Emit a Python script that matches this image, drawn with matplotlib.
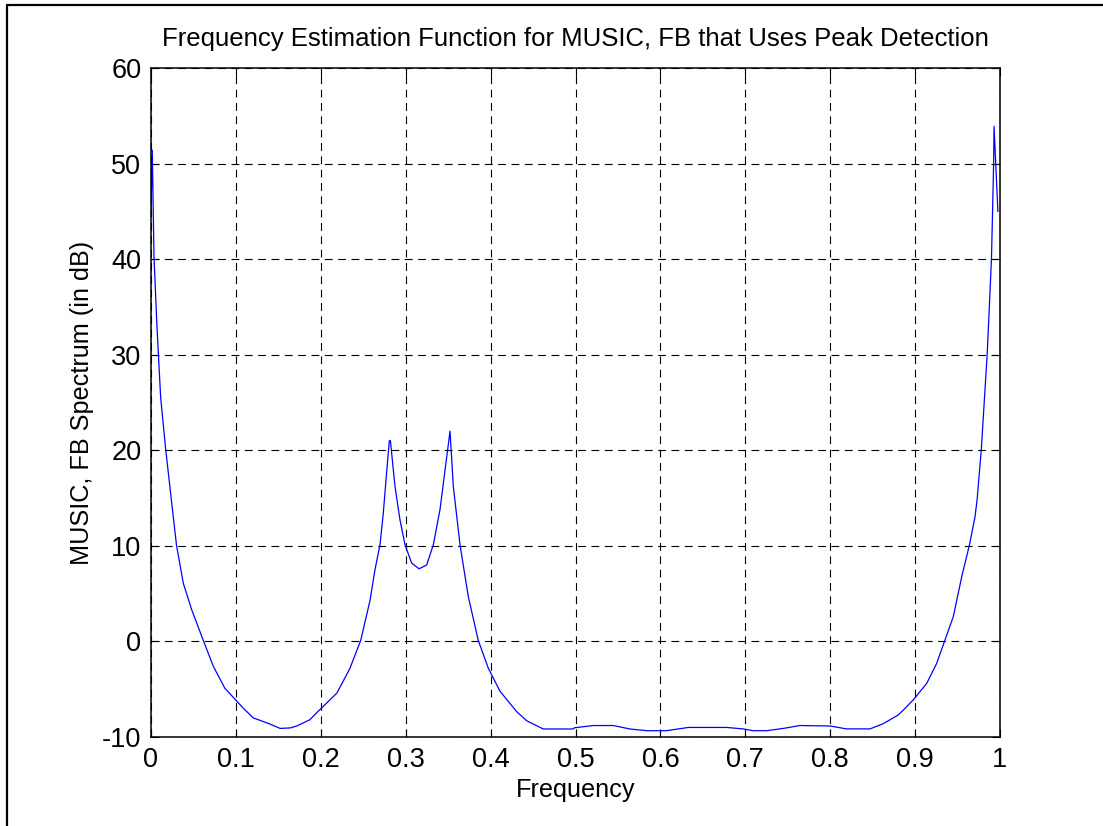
import numpy as np
import matplotlib
matplotlib.use("Agg")
import matplotlib.pyplot as plt
from matplotlib.lines import Line2D

# values
freq = [0.0, 0.0015, 0.0035, 0.0067, 0.0086, 0.0114, 0.0173, 0.024, 0.030, 0.038,
        0.048, 0.0616, 0.0734, 0.087, 0.099, 0.1088, 0.1205, 0.140, 0.152, 0.164,
        0.1716, 0.187, 0.197, 0.219, 0.2344, 0.247, 0.258, 0.2638, 0.2697, 0.2736,
        0.2768, 0.2807, 0.282, 0.2874, 0.2933, 0.2992, 0.307, 0.3157, 0.3247, 0.3325,
        0.3404, 0.3463, 0.3522, 0.3561, 0.364, 0.3737, 0.3855, 0.3973, 0.411, 0.4307,
        0.4425, 0.462, 0.497, 0.499, 0.521, 0.5445, 0.564, 0.584, 0.607, 0.633,
        0.678, 0.698, 0.709, 0.725, 0.745, 0.764, 0.80, 0.819, 0.847, 0.8626,
        0.8743, 0.880, 0.886, 0.898, 0.9136, 0.9254, 0.935, 0.945, 0.955, 0.964,
        0.9705, 0.973, 0.978, 0.985, 0.988, 0.990, 0.9925, 0.993, 0.9975]
spectrum = [45.1, 51.4, 40.3, 33.6, 30.2, 25.5, 20.1, 14.8, 10.1, 6.1,
            3.3, 0.1, -2.6, -4.9, -6.05, -7.0, -8.0, -8.64, -9.1, -9.05,
            -8.85, -8.2, -7.3, -5.4, -2.8, 0.1, 4.3, 7.5, 10.1, 13.4,
            16.9, 21.0, 21.0, 16.2, 12.7, 10.1, 8.2, 7.6, 8.0, 10.1,
            13.8, 17.9, 22.0, 16.2, 10.1, 4.7, 0.1, -2.8, -5.2, -7.35,
            -8.3, -9.16, -9.16, -9.03, -8.8, -8.8, -9.16, -9.34, -9.34, -9.0,
            -9.0, -9.16, -9.34, -9.34, -9.1, -8.8, -8.85, -9.15, -9.15, -8.6,
            -8.0, -7.7, -7.2, -6.1, -4.4, -2.3, 0.1, 2.6, 6.8, 10.1,
            13.0, 14.8, 20.1, 30.2, 36.1, 40.2, 50.0, 53.9, 45.0]

x_ticks = [0, 0.1, 0.2, 0.3, 0.4, 0.5, 0.6, 0.7, 0.8, 0.9, 1]
x_tick_labels = ["0", "0.1", "0.2", "0.3", "0.4", "0.5", "0.6", "0.7", "0.8", "0.9", "1"]
y_ticks = [-10, 0, 10, 20, 30, 40, 50, 60]

plt.rcParams['font.family'] = ['Liberation Sans', 'DejaVu Sans']
plt.rcParams['axes.unicode_minus'] = False

W, H = 1103, 826
fig = plt.figure(figsize=(W / 100, H / 100), dpi=100)
ax = fig.add_axes([151 / W, 1 - 737 / H, (1000 - 151) / W, (737 - 68) / H])

ax.plot(freq, spectrum, color='#0000ff', linewidth=0.9)

ax.set_xlim(0, 1)
ax.set_ylim(-10, 60)
ax.set_xticks(x_ticks)
ax.set_xticklabels(x_tick_labels)
ax.set_yticks(y_ticks)

ax.tick_params(direction='in', length=6, width=0.8, top=True, right=True,
               labelsize=19.5, pad=7)
ax.grid(True, color='black', linestyle=(0, (7, 5)), linewidth=0.8)
for s in ax.spines.values():
    s.set_linewidth(1.1)

ax.set_title("Frequency Estimation Function for MUSIC, FB that Uses Peak Detection",
             fontsize=18.5, pad=16)
ax.set_xlabel("Frequency", fontsize=18.2, labelpad=4)
ax.set_ylabel("MUSIC, FB Spectrum (in dB)", fontsize=18.2, labelpad=6)

# figure frame (left and top edges visible in the reference)
fig.add_artist(Line2D([7 / W, 7 / W], [-0.01, 1 - 5 / H], color='black', linewidth=1.6,
                      solid_capstyle='butt', transform=fig.transFigure))
fig.add_artist(Line2D([6 / W, 1.01], [1 - 5 / H, 1 - 5 / H], color='black', linewidth=1.6,
                      solid_capstyle='butt', transform=fig.transFigure))

fig.savefig("out.png", dpi=100)
